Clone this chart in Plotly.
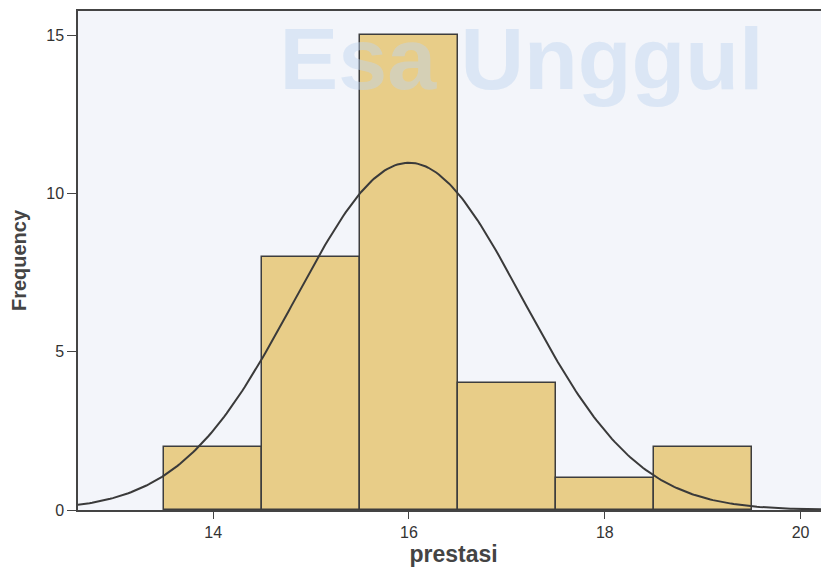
import numpy as np
import plotly.graph_objects as go

# nilai prestasi (titik tengah kelas) dan frekuensinya
prestasi = [14, 15, 16, 17, 18, 19]
frekuensi = [2, 8, 15, 4, 1, 2]

x_ticks = [14, 16, 18, 20]
y_ticks = [0, 5, 10, 15]

# kurva normal dari mean dan sd data (seperti di SPSS)
nilai = np.repeat(prestasi, frekuensi)
n = len(nilai)
mean = nilai.mean()
sd = nilai.std(ddof=1)
xs = np.linspace(12.5, 20.4, 300)
ys = n * 1.0 * np.exp(-0.5 * ((xs - mean) / sd) ** 2) / (sd * np.sqrt(2 * np.pi))

fig = go.Figure()

# watermark di belakang batang
fig.add_trace(go.Scatter(
    x=[17.15], y=[14.0],
    mode="text",
    text=["<b>Esa Unggul</b>"],
    textfont=dict(size=88, color="rgba(190,212,240,0.45)", family="Liberation Sans"),
    hoverinfo="skip",
    showlegend=False,
    cliponaxis=False
))

fig.add_trace(go.Bar(
    x=prestasi,
    y=frekuensi,
    width=1,
    marker=dict(color="#e8cd88", line=dict(color="#3d3d3d", width=1.5)),
    showlegend=False
))

fig.add_trace(go.Scatter(
    x=xs, y=ys,
    mode="lines",
    line=dict(color="#3a3a3a", width=2),
    showlegend=False
))

# halaman punya margin 8px, jadi margin plot dikurangi 8
fig.update_layout(
    width=829,
    height=572,
    margin=dict(l=70, r=8, t=3, b=70),
    paper_bgcolor="white",
    plot_bgcolor="#f3f5fa",
    bargap=0,
    font=dict(family="Liberation Sans, Arial", color="#333"),
)

fig.update_xaxes(
    range=[12.62, 20.29],
    tickvals=x_ticks,
    ticks="outside",
    ticklen=7,
    tickcolor="#444",
    tickfont=dict(size=16, color="#333"),
    showgrid=False,
    zeroline=False,
    showline=True,
    linecolor="#444",
    linewidth=1.5,
    mirror=True,
    automargin=False,
    title=dict(text="<b>prestasi</b>", font=dict(size=23, color="#444"), standoff=2),
)

fig.update_yaxes(
    range=[0, 15.76],
    tickvals=y_ticks,
    ticks="outside",
    ticklen=9,
    tickcolor="#444",
    tickfont=dict(size=16, color="#333"),
    showgrid=False,
    zeroline=False,
    showline=True,
    linecolor="#444",
    linewidth=1.5,
    automargin=False,
    title=dict(text="<b>Frequency</b>", font=dict(size=20, color="#444"), standoff=14),
)

fig.write_html("out.html")
